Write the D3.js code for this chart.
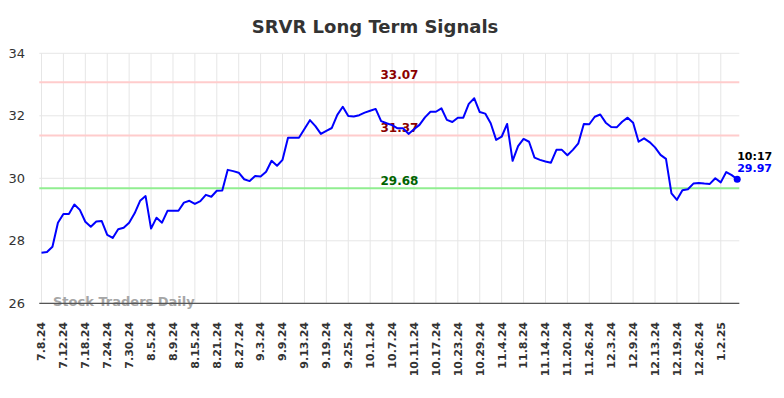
<!DOCTYPE html>
<html>
<head>
<meta charset="utf-8">
<script src="https://cdn.jsdelivr.net/npm/d3@7"></script>
<style>
  body { margin: 0; background: #fff; }
  text { font-family: "DejaVu Sans", sans-serif; }
</style>
</head>
<body>
<div id="chart"></div>
<script>
// closing prices, one per trading day from 7.8.24
const prices = [
    27.62, 27.64, 27.81, 28.58, 28.86, 28.86, 29.16, 28.99, 28.61, 28.45,
    28.62, 28.63, 28.19, 28.09, 28.37, 28.42, 28.58, 28.88, 29.28, 29.43,
    28.39, 28.74, 28.58, 28.96, 28.96, 28.96, 29.22, 29.28, 29.18, 29.27,
    29.47, 29.41, 29.60, 29.61, 30.27, 30.23, 30.18, 29.97, 29.91, 30.07,
    30.06, 30.21, 30.56, 30.40, 30.59, 31.30, 31.30, 31.30, 31.58, 31.86,
    31.67, 31.42, 31.52, 31.61, 32.03, 32.29, 31.99, 31.98, 32.02, 32.10,
    32.16, 32.22, 31.83, 31.76, 31.70, 31.60, 31.60, 31.42, 31.57, 31.71,
    31.95, 32.13, 32.13, 32.24, 31.87, 31.80, 31.94, 31.94, 32.38, 32.56,
    32.12, 32.07, 31.76, 31.23, 31.33, 31.74, 30.56, 31.03, 31.26, 31.17,
    30.66, 30.59, 30.54, 30.50, 30.91, 30.91, 30.74, 30.91, 31.12, 31.74,
    31.73, 31.97, 32.04, 31.78, 31.64, 31.63, 31.81, 31.94, 31.78, 31.17,
    31.28, 31.16, 30.99, 30.75, 30.62, 29.52, 29.31, 29.62, 29.65, 29.83,
    29.85, 29.83, 29.82, 30.00, 29.87, 30.20, 30.10, 29.97
];

// a tick every 4 trading days
const tickLabels = [
    "7.8.24", "7.12.24", "7.18.24", "7.24.24", "7.30.24", "8.5.24", "8.9.24", "8.15.24",
    "8.21.24", "8.27.24", "9.3.24", "9.9.24", "9.13.24", "9.19.24", "9.25.24", "10.1.24",
    "10.7.24", "10.11.24", "10.17.24", "10.23.24", "10.29.24", "11.4.24", "11.8.24", "11.14.24",
    "11.20.24", "11.26.24", "12.3.24", "12.9.24", "12.13.24", "12.19.24", "12.26.24", "1.2.25"
];
const tickIndex = tickLabels.map((d, i) => i * 4);

const yTicks = [26, 28, 30, 32, 34];

const levels = [
    { value: 33.07, line: "#ffcccc", label: "#8b0000" },
    { value: 31.37, line: "#ffcccc", label: "#8b0000" },
    { value: 29.68, line: "#90ee90", label: "#006400" }
];

const lastTime = "10:17";

const width = 784, height = 398;
const plotLeft = 39.3, plotRight = 739.3, plotTop = 53.3, plotBottom = 303.3;

const svg = d3.select("#chart")
    .append("svg")
    .attr("width", width)
    .attr("height", height);

const x = d3.scaleLinear().domain([0, prices.length - 1]).range([41.5, 737.2]);
const y = d3.scaleLinear().domain([26, 34]).range([plotBottom, plotTop]);

// grid
svg.append("g")
    .selectAll("line")
    .data(yTicks)
    .enter()
    .append("line")
    .attr("x1", plotLeft).attr("x2", plotRight)
    .attr("y1", d => y(d)).attr("y2", d => y(d))
    .attr("stroke", "#e6e6e6")
    .attr("stroke-width", 1);

svg.append("g")
    .selectAll("line")
    .data(tickIndex)
    .enter()
    .append("line")
    .attr("x1", d => x(d)).attr("x2", d => x(d))
    .attr("y1", plotTop).attr("y2", plotBottom)
    .attr("stroke", "#e6e6e6")
    .attr("stroke-width", 1);

// y labels
svg.append("g")
    .selectAll("text")
    .data(yTicks)
    .enter()
    .append("text")
    .attr("x", 25)
    .attr("y", d => y(d))
    .attr("dy", "0.35em")
    .attr("text-anchor", "end")
    .style("font-size", "13px")
    .style("fill", "#333")
    .text(d => d);

// x labels
svg.append("g")
    .selectAll("text")
    .data(tickIndex)
    .enter()
    .append("text")
    .attr("transform", d => `translate(${x(d)},322) rotate(-90)`)
    .attr("dy", "0.35em")
    .attr("text-anchor", "end")
    .style("font-size", "11px")
    .style("font-weight", "bold")
    .style("fill", "#333")
    .text((d, i) => tickLabels[i]);

// watermark
svg.append("text")
    .attr("x", 53)
    .attr("y", 306)
    .style("font-size", "13px")
    .style("font-weight", "bold")
    .style("fill", "#a6a6a6")
    .text("Stock Traders Daily");

// level lines
svg.append("g")
    .selectAll("line")
    .data(levels)
    .enter()
    .append("line")
    .attr("x1", plotLeft).attr("x2", plotRight)
    .attr("y1", d => y(d.value)).attr("y2", d => y(d.value))
    .attr("stroke", d => d.line)
    .attr("stroke-width", 2);

// level labels (under the price line)
svg.append("g")
    .selectAll("text")
    .data(levels)
    .enter()
    .append("text")
    .attr("x", 399.5)
    .attr("y", d => y(d.value) - 3.5)
    .attr("text-anchor", "middle")
    .style("font-size", "12px")
    .style("font-weight", "bold")
    .style("fill", d => d.label)
    .text(d => d.value.toFixed(2));

// bottom axis line
svg.append("line")
    .attr("x1", plotLeft).attr("x2", plotRight)
    .attr("y1", plotBottom).attr("y2", plotBottom)
    .attr("stroke", "#555")
    .attr("stroke-width", 1.2);

// price line
const line = d3.line().x((d, i) => x(i)).y(d => y(d));

svg.append("path")
    .datum(prices)
    .attr("fill", "none")
    .attr("stroke", "#0000ff")
    .attr("stroke-width", 2)
    .attr("stroke-linejoin", "round")
    .attr("d", line);

// last point
const lastI = prices.length - 1;
svg.append("circle")
    .attr("cx", x(lastI))
    .attr("cy", y(prices[lastI]))
    .attr("r", 3.5)
    .attr("fill", "#0000ff");

svg.append("text")
    .attr("x", x(lastI))
    .attr("y", 159.5)
    .style("font-size", "11px")
    .style("font-weight", "bold")
    .style("fill", "#000")
    .text(lastTime);

svg.append("text")
    .attr("x", x(lastI))
    .attr("y", 172)
    .style("font-size", "11px")
    .style("font-weight", "bold")
    .style("fill", "#0000ff")
    .text(prices[lastI].toFixed(2));

// title
svg.append("text")
    .attr("x", 375)
    .attr("y", 32.7)
    .attr("text-anchor", "middle")
    .style("font-size", "18px")
    .style("font-weight", "bold")
    .style("fill", "#333")
    .text("SRVR Long Term Signals");
</script>
</body>
</html>
